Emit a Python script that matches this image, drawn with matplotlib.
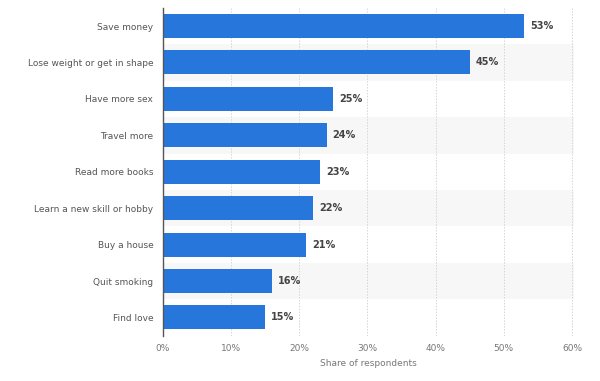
import matplotlib
matplotlib.use("Agg")
import matplotlib.pyplot as plt
from matplotlib.ticker import FuncFormatter

categories = [
    "Save money",
    "Lose weight or get in shape",
    "Have more sex",
    "Travel more",
    "Read more books",
    "Learn a new skill or hobby",
    "Buy a house",
    "Quit smoking",
    "Find love",
]
shares = [53, 45, 25, 24, 23, 22, 21, 16, 15]
x_ticks = [0, 10, 20, 30, 40, 50, 60]

fig = plt.figure(figsize=(6, 3.81), dpi=100)
ax = fig.add_axes([0.2717, 0.119, 0.685, 0.8605])

n = len(categories)
pos = list(range(n))

# alternating row shading
for i in pos:
    if i % 2 == 1:
        ax.axhspan(i - 0.5, i + 0.5, color="#f7f7f7", zorder=0, lw=0)

ax.barh(pos, shares, height=0.66, color="#2776dc", zorder=3)

for i, v in enumerate(shares):
    ax.text(v + 0.9, i, f"{v}%", va="center", ha="left",
            fontsize=7, fontweight="bold", color="#444444", zorder=4)

ax.set_xlim(0, 60.3)
ax.set_ylim(n - 0.5, -0.5)
ax.set_yticks(pos)
ax.set_yticklabels(categories, fontsize=6.5, color="#555555")
ax.set_xticks(x_ticks)
ax.xaxis.set_major_formatter(FuncFormatter(lambda v, _: f"{v:.0f}%"))
ax.tick_params(axis="x", labelsize=6.5, labelcolor="#777777", length=0, pad=6)
ax.tick_params(axis="y", length=0, pad=7)

ax.grid(axis="x", color="#d5d5d5", linestyle=(0, (1.5, 1.5)), lw=0.7, zorder=1)
ax.set_axisbelow(True)

for side in ["top", "right", "bottom"]:
    ax.spines[side].set_visible(False)
ax.spines["left"].set_color("#555555")
ax.spines["left"].set_linewidth(1)
ax.spines["left"].set_zorder(5)

ax.set_xlabel("Share of respondents", fontsize=6.5, color="#777777", labelpad=4)

fig.savefig("out.png", dpi=100)
